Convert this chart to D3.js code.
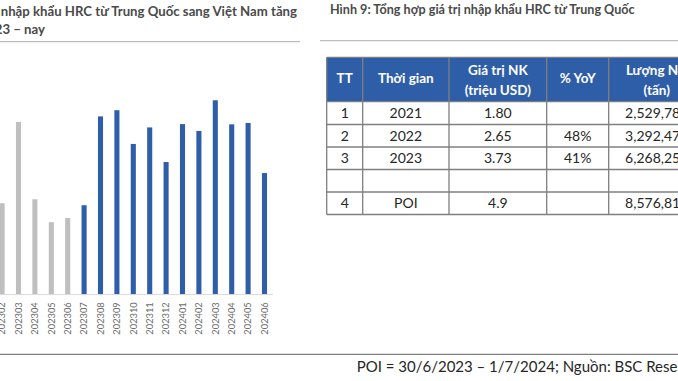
<!DOCTYPE html>
<html lang="vi">
<head>
    <meta charset="UTF-8">
    <title>HRC nhập khẩu từ Trung Quốc</title>
    <style>
        body { margin: 0; background: #fff; }
        svg { display: block; font-family: Lato, "Open Sans", sans-serif; }
    </style>
</head>
<body>
    <svg width="678" height="381"></svg>

    <script src="https://d3js.org/d3.v7.min.js"></script>
    <script>
        // monthly HRC imports from China (thousand tonnes)
        let months = ["202302", "202303", "202304", "202305", "202306", "202307", "202308", "202309",
                      "202310", "202311", "202312", "202401", "202402", "202403", "202404", "202405", "202406"];
        let volumes = [413, 782, 431, 327, 346, 404, 807, 835, 682, 757, 600, 772, 741, 880, 771, 777, 550];
        let firstBlue = "202307"; // POI starts here

        // table
        let tableHead1 = ["TT", "Thời gian", "Giá trị NK", "% YoY", "Lượng NK"];
        let tableHead2 = ["", "", "(triệu USD)", "", "(tấn)"];
        let ttCol = ["1", "2", "3", "", "4"];
        let periodCol = ["2021", "2022", "2023", "", "POI"];
        let valueCol = ["1.80", "2.65", "3.73", "", "4.9"];
        let yoyCol = ["", "48%", "41%", "", ""];
        let tonCol = ["2,529,784", "3,292,476", "6,268,253", "", "8,576,811"];

        let svg = d3.select("svg");

        // ---- left: bar chart ----
        let baseY = 294.3;
        let x = d3.scaleBand()
            .domain(months)
            .range([-6.1, -6.1 + months.length * 16.4])
            .paddingInner(0.69)
            .paddingOuter(0.345);
        let y = d3.scaleLinear().domain([0, 1000]).range([baseY, baseY - 1000 / 4.536]);

        svg.append("text")
            .attr("x", 297).attr("y", 16)
            .attr("text-anchor", "end")
            .attr("fill", "#4a4a4a").attr("font-weight", 700).attr("font-size", 13.2)
            .text("Hình 8: Lượng nhập khẩu HRC từ Trung Quốc sang Việt Nam tăng");
        svg.append("text")
            .attr("x", 45).attr("y", 34)
            .attr("text-anchor", "end")
            .attr("fill", "#4a4a4a").attr("font-weight", 700).attr("font-size", 13.2)
            .text("mạnh từ 2023 – nay");
        svg.append("line")
            .attr("x1", 0).attr("x2", 300).attr("y1", 41.7).attr("y2", 41.7)
            .attr("stroke", "#bdbdbd").attr("stroke-width", 1.3);

        svg.selectAll("rect.bar")
            .data(months)
            .enter()
            .append("rect")
            .attr("class", "bar")
            .attr("x", d => x(d))
            .attr("width", x.bandwidth())
            .attr("y", (d, i) => y(volumes[i]))
            .attr("height", (d, i) => baseY - y(volumes[i]))
            .attr("fill", d => d >= firstBlue ? "#2f5ea8" : "#bfbfbf");

        let axis = svg.append("g")
            .attr("transform", "translate(0," + baseY + ")")
            .call(d3.axisBottom(x).tickSize(0).tickSizeOuter(0));
        axis.select(".domain").remove();
        axis.append("line")
            .attr("x1", 0).attr("x2", 273).attr("y1", 0.3).attr("y2", 0.3)
            .attr("stroke", "#d9d9d9").attr("stroke-width", 1);
        axis.selectAll("text")
            .attr("transform", "rotate(-90)")
            .attr("text-anchor", "end")
            .attr("x", -8).attr("y", 0).attr("dy", "0.35em")
            .attr("fill", "#6b6b6b")
            .attr("font-family", "Lato, sans-serif")
            .attr("font-size", 9.3);

        // ---- right: table ----
        svg.append("text")
            .attr("x", 330).attr("y", 14)
            .attr("fill", "#4a4a4a").attr("font-weight", 700).attr("font-size", 12.6)
            .text("Hình 9: Tổng hợp giá trị nhập khẩu HRC từ Trung Quốc");
        svg.append("line")
            .attr("x1", 320).attr("x2", 678).attr("y1", 40.7).attr("y2", 40.7)
            .attr("stroke", "#bdbdbd").attr("stroke-width", 1.3);

        let colEdges = [326.7, 362.7, 449, 546.7, 608.7, 704.7];
        let rowEdges = [57.3, 101.7, 124.5, 147, 169.5, 192, 214.5];
        let cols = [ttCol, periodCol, valueCol, yoyCol, tonCol];

        svg.append("rect")
            .attr("x", colEdges[0]).attr("y", rowEdges[0])
            .attr("width", colEdges[5] - colEdges[0]).attr("height", rowEdges[1] - rowEdges[0])
            .attr("fill", "#2f5ea8");

        // header text
        tableHead1.forEach(function (h, c) {
            let cx = (colEdges[c] + colEdges[c + 1]) / 2;
            let twoLines = tableHead2[c] !== "";
            svg.append("text")
                .attr("x", cx).attr("y", twoLines ? 74.5 : 83)
                .attr("text-anchor", "middle")
                .attr("fill", "#fff").attr("font-weight", 700).attr("font-size", 13.5)
                .text(h);
            if (twoLines) {
                svg.append("text")
                    .attr("x", cx).attr("y", 95)
                    .attr("text-anchor", "middle")
                    .attr("fill", "#fff").attr("font-weight", 700).attr("font-size", 13.5)
                    .text(tableHead2[c]);
            }
        });

        // body text
        cols.forEach(function (col, c) {
            let cx = (colEdges[c] + colEdges[c + 1]) / 2;
            col.forEach(function (v, r) {
                svg.append("text")
                    .attr("x", cx).attr("y", (rowEdges[r + 1] + rowEdges[r + 2]) / 2 + 5)
                    .attr("text-anchor", "middle")
                    .attr("fill", "#262626").attr("font-size", 14)
                    .text(v);
            });
        });

        // grid lines
        colEdges.forEach(function (cx) {
            svg.append("line")
                .attr("x1", cx).attr("x2", cx)
                .attr("y1", rowEdges[0]).attr("y2", rowEdges[6])
                .attr("stroke", "#7f7f7f").attr("stroke-width", 1.3);
        });
        rowEdges.forEach(function (ry) {
            svg.append("line")
                .attr("x1", colEdges[0]).attr("x2", colEdges[5])
                .attr("y1", ry).attr("y2", ry)
                .attr("stroke", "#7f7f7f").attr("stroke-width", 1.3);
        });

        // footer
        svg.append("line")
            .attr("x1", 0).attr("x2", 678).attr("y1", 354.3).attr("y2", 354.3)
            .attr("stroke", "#7f7f7f").attr("stroke-width", 1.3);
        svg.append("text")
            .attr("x", 356.7).attr("y", 372)
            .attr("fill", "#262626").attr("font-size", 15)
            .text("POI = 30/6/2023 – 1/7/2024; Nguồn: BSC Research");
    </script>
</body>
</html>
